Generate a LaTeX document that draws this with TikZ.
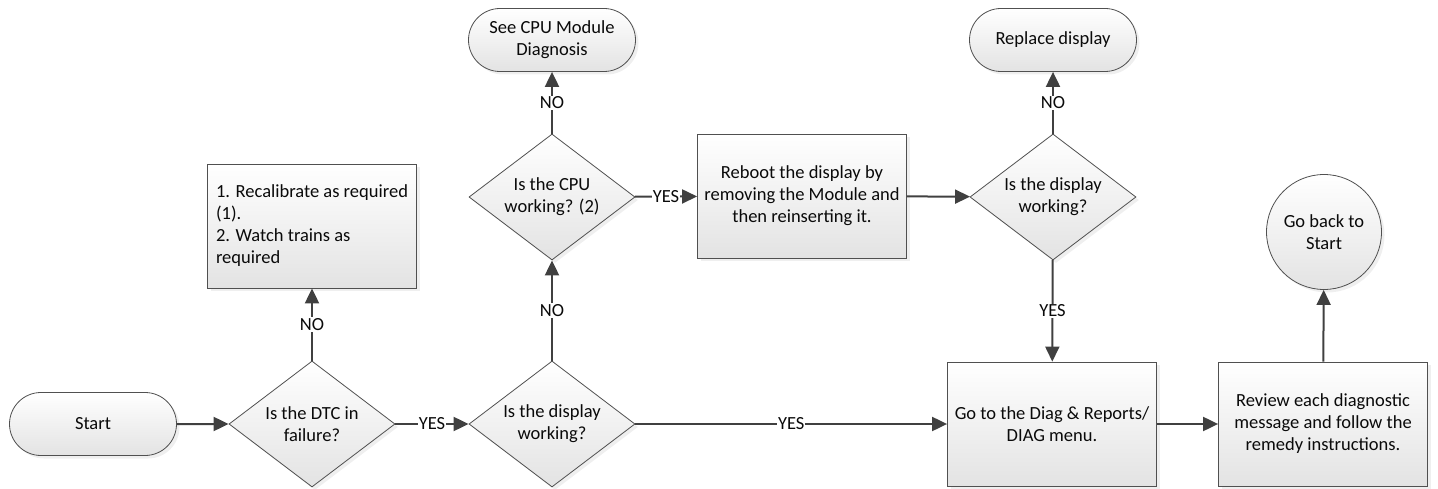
\documentclass[tikz,border=0pt]{standalone}
\usepackage{fontspec}
\setmainfont{Carlito}
\usepackage{tikz}
\usetikzlibrary{shapes.geometric, shapes.misc, arrows.meta, shadows}
\definecolor{lnclr}{RGB}{64,64,64}
\definecolor{edgeclr}{RGB}{80,80,80}
\definecolor{txtclr}{RGB}{10,10,10}
\tikzset{
  base/.style={draw=edgeclr, line width=0.8pt, top color=white, bottom color=black!11,
    drop shadow={shadow xshift=3pt, shadow yshift=-3pt, fill=black!12},
    text=txtclr, align=center, font=\fontsize{18.5}{22}\selectfont},
  terminal/.style={base, rounded rectangle, minimum width=167pt, minimum height=63pt, inner sep=0pt},
  decision/.style={base, diamond, minimum width=166pt, minimum height=126pt, inner sep=0pt, aspect=1.32},
  process/.style={base, rectangle, minimum width=209pt, minimum height=124pt, inner sep=0pt},
  notebox/.style={process, align=left},
  backcirc/.style={base, circle, minimum size=115pt, inner sep=0pt},
  arrow/.style={-{Triangle[length=15pt, width=14pt]}, line width=2pt, color=lnclr},
  lbl/.style={fill=white, inner sep=1pt, text=txtclr, font=\fontsize{18.5}{22}\selectfont}
}
\begin{document}
\begin{tikzpicture}[x=1pt, y=-1pt]
  \useasboundingbox (0,0) rectangle (1438,489);

  % bottom row
  \node[terminal] (start) at (93,424) {Start};
  \node[decision] (dtc) at (312,424) {Is the DTC in\\failure?};
  \node[decision] (disp) at (552,424) {Is the display\\working?};
  \node[process] (diag) at (1052,424) {Go to the Diag \& Reports/\\DIAG menu.};
  \node[process] (review) at (1323,424) {Review each diagnostic\\message and follow the\\remedy instructions.};

  % middle row
  \node[notebox] (recal) at (312,226) {1. Recalibrate as required\\(1).\\2. Watch trains as\\required};
  \node[decision] (cpu) at (552,197) {Is the CPU\\working? (2)};
  \node[process] (reboot) at (802,196) {Reboot the display by\\removing the Module and\\then reinserting it.};
  \node[decision] (disp2) at (1053,197) {Is the display\\working?};
  \node[backcirc] (back) at (1324,232) {Go back to\\Start};

  % top row
  \node[terminal] (cpudiag) at (552,40) {See CPU Module\\Diagnosis};
  \node[terminal] (replace) at (1053,40) {Replace display};

  % connectors
  \draw[arrow] (start) -- (dtc);
  \draw[arrow] (dtc) -- node[lbl] {YES} (disp);
  \draw[arrow] (dtc) -- node[lbl] {NO} (recal);
  \draw[arrow] (disp) -- node[lbl] {NO} (cpu);
  \draw[arrow] (disp) -- node[lbl] {YES} (diag);
  \draw[arrow] (cpu) -- node[lbl] {NO} (cpudiag);
  \draw[arrow] (cpu) -- node[lbl] {YES} (reboot);
  \draw[arrow] (reboot) -- (disp2);
  \draw[arrow] (disp2) -- node[lbl] {NO} (replace);
  \draw[arrow] (disp2) -- node[lbl] {YES} (diag);
  \draw[arrow] (diag) -- (review);
  \draw[arrow] (review) -- (back);
\end{tikzpicture}
\end{document}
